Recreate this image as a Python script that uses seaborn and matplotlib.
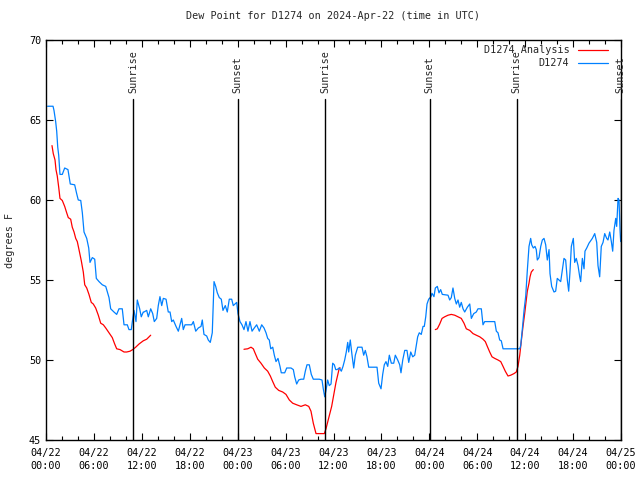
import seaborn as sns
import matplotlib
matplotlib.use("Agg")
import matplotlib.pyplot as plt
import matplotlib.dates as mdates
import pandas as pd

# hours since 2024-04-22 00:00 UTC
obs_hours = [0.2, 0.88, 1.0, 1.21, 1.34, 1.47, 1.59, 1.75, 2.04, 2.34, 2.75, 3.04, 3.59, 3.84, 4.04, 4.35,
             4.55, 4.76, 5.10, 5.35, 5.51, 5.80, 6.10, 6.30, 6.64, 7.05, 7.48, 7.89, 8.10, 8.51, 8.85, 9.14,
             9.55, 9.77, 10.18, 10.39, 10.68, 10.81, 11.02, 11.27, 11.43, 11.73, 11.93, 12.18, 12.27, 12.61,
             12.81, 13.11, 13.36, 13.56, 13.86, 14.06, 14.27, 14.49, 14.69, 15.03, 15.31, 15.53, 15.74, 15.94,
             16.28, 16.57, 16.78, 16.99, 17.19, 17.41, 18.24, 18.45, 18.75, 19.07, 19.41, 19.57, 19.78, 20.12,
             20.32, 20.57, 20.82, 20.91, 21.04, 21.25, 21.45, 21.70, 21.95, 22.16, 22.45, 22.70, 22.95, 23.25,
             23.45, 23.67, 23.88, 24.04, 24.29, 24.54, 24.79, 25.04, 25.29, 25.54, 25.80, 26.08, 26.38, 26.71,
             27.01, 27.30, 27.55, 27.76, 27.96, 28.14, 28.39, 28.59, 28.80, 29.05, 29.30, 29.46, 29.89, 30.14,
             30.68, 30.97, 31.14, 31.39, 31.64, 31.93, 32.27, 32.47, 32.68, 32.97, 33.22, 33.47, 34.22, 34.56,
             34.72, 34.90, 35.06, 35.27, 35.47, 35.69, 35.90, 36.10, 36.28, 36.44, 36.73, 36.98, 37.19, 37.40,
             37.60, 37.78, 37.90, 38.10, 38.32, 38.53, 38.73, 39.03, 39.57, 39.78, 39.98, 40.19, 40.41, 41.45,
             41.66, 41.95, 42.16, 42.36, 42.57, 42.79, 42.99, 43.24, 43.54, 43.74, 44.04, 44.29, 44.45, 44.67,
             44.92, 45.20, 45.42, 45.67, 45.92, 46.17, 46.33, 46.54, 46.74, 46.99, 47.21, 47.37, 47.55, 47.71,
             47.92, 48.21, 48.33, 48.58, 48.75, 49.00, 49.21, 49.42, 49.62, 50.34, 50.55, 50.75, 50.96, 51.18,
             51.38, 51.59, 51.80, 52.00, 52.22, 52.43, 52.76, 53.06, 53.26, 53.56, 53.88, 54.09, 54.51, 54.72,
             54.93, 56.19, 56.39, 56.60, 56.81, 57.01, 57.23, 59.32, 59.44, 59.64, 59.86, 60.07, 60.27, 60.48,
             60.69, 60.82, 61.02, 61.23, 61.39, 61.52, 61.73, 61.95, 62.15, 62.36, 62.57, 62.77, 62.99, 63.11,
             63.32, 63.61, 63.82, 64.02, 64.24, 64.45, 64.65, 64.86, 65.07, 65.28, 65.45, 65.61, 65.78, 66.03,
             66.20, 66.40, 66.62, 66.83, 66.95, 67.16, 67.37, 67.49, 67.71, 67.99, 68.41, 68.71, 68.96, 69.12,
             69.33, 69.53, 69.75, 69.96, 70.21, 70.37, 70.59, 70.79, 70.96, 71.12, 71.34, 71.46, 71.63, 71.75,
             71.88, 71.96]
obs_dew = [65.86, 65.86, 65.6, 64.9, 64.3, 63.3, 62.8, 61.6, 61.6, 62.0, 61.9, 61.0, 60.95, 60.4, 60.0, 59.97,
           59.2, 58.0, 57.6, 57.0, 56.1, 56.4, 56.3, 55.1, 54.9, 54.7, 54.6, 53.9, 53.2, 53.0, 52.85, 53.2,
           53.2, 52.2, 52.2, 51.9, 51.9, 52.4, 53.1, 52.4, 53.75, 53.2, 52.7, 53.0, 53.0, 53.1,
           52.7, 53.2, 52.9, 52.4, 52.6, 53.4, 53.96, 53.4, 53.85, 53.8, 53.0, 53.0, 52.4, 52.5,
           52.1, 51.8, 52.2, 52.6, 51.9, 52.2, 52.2, 52.4, 51.8, 52.0, 52.1, 52.5, 51.6, 51.5,
           51.25, 51.1, 51.7, 53.0, 54.9, 54.6, 54.2, 53.9, 53.8, 53.1, 53.4, 53.0, 53.8, 53.8,
           53.4, 53.5, 53.6, 52.9, 52.4, 52.2, 51.9, 52.4, 51.8, 52.4, 51.8, 52.0, 52.2, 51.8,
           52.2, 52.0, 51.7, 51.35, 51.25, 50.7, 50.8, 50.3, 49.9, 50.1, 49.6, 49.2, 49.2, 49.5,
           49.5, 49.4, 48.95, 48.5, 48.75, 48.8, 48.8, 49.3, 49.7, 49.7, 49.1, 48.8, 48.8, 48.75,
           48.2, 47.7, 48.1, 48.75, 48.4, 48.5, 49.8, 49.7, 49.4, 49.4, 49.5, 49.3, 49.6, 50.0,
           50.5, 51.1, 50.5, 51.25, 50.3, 49.5, 50.3, 50.8, 50.8, 50.3, 50.6, 50.2, 49.55, 49.55,
           48.55, 48.2, 49.1, 49.7, 49.9, 49.6, 50.3, 49.8, 49.8, 50.3, 50.0, 49.7, 49.2, 50.0,
           50.6, 50.6, 49.85, 50.5, 50.2, 50.3, 50.8, 51.45, 51.7, 51.6, 52.1, 52.1, 52.7, 53.5,
           53.8, 53.96, 54.17, 53.96, 54.5, 54.6, 54.2, 54.4, 54.1, 54.05, 53.75, 53.9, 54.5, 53.85,
           53.5, 53.75, 53.3, 53.6, 53.2, 53.0, 53.3, 53.5, 52.6, 52.9, 53.0, 53.2, 53.2, 52.2,
           52.4, 52.4, 51.8, 51.7, 51.25, 51.2, 50.7, 50.7, 50.9, 51.9, 53.1, 54.0, 55.6, 57.1,
           57.6, 57.2, 57.0, 57.1, 56.9, 56.25, 56.4, 57.1, 57.5, 57.6, 57.2, 56.25, 56.9, 55.4,
           54.6, 54.25, 54.3, 55.1, 55.0, 54.9, 55.6, 56.35, 56.25, 55.0, 54.3, 55.5, 57.1, 57.6,
           56.1, 56.35, 55.9, 55.2, 54.9, 56.35, 55.7, 56.8, 57.0, 57.3, 57.6, 57.9, 57.35, 55.9,
           55.2, 57.1, 57.35, 57.9, 57.6, 57.5, 58.0, 57.4, 56.8, 58.1, 58.85, 58.35, 60.1, 60.0,
           58.1, 57.4]

# analysis comes in three pieces
ana1_hours = [0.75, 0.91, 1.13, 1.25, 1.41, 1.59, 1.75, 2.04, 2.34, 2.59, 2.79, 3.09, 3.29, 3.51, 3.72, 3.92,
              4.13, 4.42, 4.67, 4.85, 5.10, 5.38, 5.67, 5.92, 6.22, 6.55, 6.85, 7.18, 7.48, 7.89, 8.30, 8.60,
              8.85, 9.27, 9.77, 10.11, 10.52, 10.86, 11.23, 11.65, 12.18, 12.61, 13.11]
ana1_dew = [63.4, 62.9, 62.5, 61.9, 61.5, 60.8, 60.1, 59.97, 59.6, 59.2, 58.9, 58.8, 58.3, 58.0, 57.6, 57.4,
            56.9, 56.2, 55.5, 54.7, 54.5, 54.1, 53.6, 53.5, 53.25, 52.8, 52.3, 52.2, 52.0, 51.7, 51.4, 51.0,
            50.7, 50.65, 50.5, 50.5, 50.55, 50.65, 50.8, 51.0, 51.2, 51.3, 51.55]
ana2_hours = [24.79, 25.26, 25.67, 25.96, 26.21, 26.51, 26.92, 27.34, 27.76, 28.09, 28.39, 28.71, 29.14, 29.64,
              30.05, 30.47, 30.89, 31.39, 31.93, 32.47, 32.90, 33.18, 33.47, 33.81, 34.85, 35.06, 35.31, 35.77,
              36.31, 36.73, 36.85]
ana2_dew = [50.67, 50.7, 50.8, 50.7, 50.4, 50.05, 49.8, 49.5, 49.3, 49.0, 48.65, 48.3, 48.1, 48.0,
            47.85, 47.5, 47.3, 47.2, 47.1, 47.2, 47.1, 46.8, 46.05, 45.4, 45.4, 45.7, 46.2, 47.1,
            48.6, 49.5, 49.5]
ana3_hours = [48.75, 49.00, 49.30, 49.59, 49.92, 50.34, 50.75, 51.18, 51.59, 52.00, 52.34, 52.63, 53.06, 53.47,
              53.88, 54.31, 54.72, 55.01, 55.26, 55.56, 55.85, 56.19, 56.60, 56.94, 57.23, 57.51, 57.85, 58.19,
              58.60, 58.89, 59.10, 59.32, 59.52, 59.73, 59.94, 60.14, 60.27, 60.48, 60.61, 60.77, 61.02]
ana3_dew = [51.9, 51.95, 52.25, 52.6, 52.7, 52.8, 52.85, 52.8, 52.7, 52.6, 52.3, 51.95, 51.85, 51.65,
            51.55, 51.45, 51.3, 51.15, 50.85, 50.5, 50.2, 50.1, 50.0, 49.9, 49.6, 49.3, 49.0, 49.05,
            49.15, 49.25, 49.6, 50.3, 51.2, 52.1, 52.9, 53.75, 54.3, 54.8, 55.2, 55.5, 55.65]

sun_hours = [10.92, 23.98, 34.97, 48.03, 58.93, 71.96]
sun_labels = ["Sunrise", "Sunset", "Sunrise", "Sunset", "Sunrise", "Sunset"]

t0 = pd.Timestamp("2024-04-22 00:00")

def to_time(h):
    return t0 + pd.to_timedelta(h, unit="h")

frames = [pd.DataFrame({"time": to_time(obs_hours), "dew": obs_dew, "series": "D1274", "seg": 0})]
for i, (hh, dd) in enumerate([(ana1_hours, ana1_dew), (ana2_hours, ana2_dew), (ana3_hours, ana3_dew)]):
    frames.append(pd.DataFrame({"time": to_time(hh), "dew": dd, "series": "D1274 Analysis", "seg": i + 1}))
df = pd.concat(frames, ignore_index=True)

sns.set_style("ticks")
plt.rcParams["font.family"] = ["DejaVu Sans Mono"]
plt.rcParams["font.size"] = 7

fig, ax = plt.subplots(figsize=(6.4, 4.8), dpi=100)
fig.subplots_adjust(left=46 / 640, right=621 / 640, top=1 - 40 / 480, bottom=1 - 440 / 480)

sns.lineplot(data=df, x="time", y="dew", hue="series", units="seg", estimator=None,
             hue_order=["D1274 Analysis", "D1274"],
             palette={"D1274 Analysis": "#ff0000", "D1274": "#0080ff"},
             linewidth=0.9, ax=ax)

for h, lab in zip(sun_hours, sun_labels):
    t = to_time(h)
    ax.axvline(t, ymin=0, ymax=(440 - 99) / 400, color="black", linewidth=1.0)
    ax.text(t, 0.868, lab, transform=ax.get_xaxis_transform(), rotation=90,
            ha="center", va="bottom", fontsize=7.3)

ax.set_xlim(t0, to_time(72))
ax.set_ylim(45, 70)
ax.set_yticks([45, 50, 55, 60, 65, 70])
ax.xaxis.set_major_locator(mdates.HourLocator(byhour=[0, 6, 12, 18]))
ax.xaxis.set_minor_locator(mdates.HourLocator(interval=2))
ax.xaxis.set_major_formatter(mdates.DateFormatter("%m/%d\n%H:%M"))
ax.tick_params(which="both", direction="in", top=True, right=True, colors="black", labelsize=7.3)
ax.tick_params(which="major", length=5, width=0.8)
ax.tick_params(which="minor", length=3, width=0.8)
ax.tick_params(axis="x", which="major", pad=6)
for lbl in ax.get_xticklabels():
    lbl.set_linespacing(1.3)
for s in ax.spines.values():
    s.set_color("black")
    s.set_linewidth(1.0)

ax.set_xlabel("")
ax.set_ylabel("degrees F", fontsize=7.3, labelpad=10)
ax.set_title("Dew Point for D1274 on 2024-Apr-22 (time in UTC)", fontsize=7.3, pad=15)

leg = ax.legend(loc="upper right", bbox_to_anchor=(1 - 8 / 575, 1.0), frameon=False,
                markerfirst=False, fontsize=7.3, handlelength=3.0, borderaxespad=0.1,
                labelspacing=0.3)
for t in leg.get_texts():
    t.set_ha("right")

plt.savefig("out.png", dpi=100)
